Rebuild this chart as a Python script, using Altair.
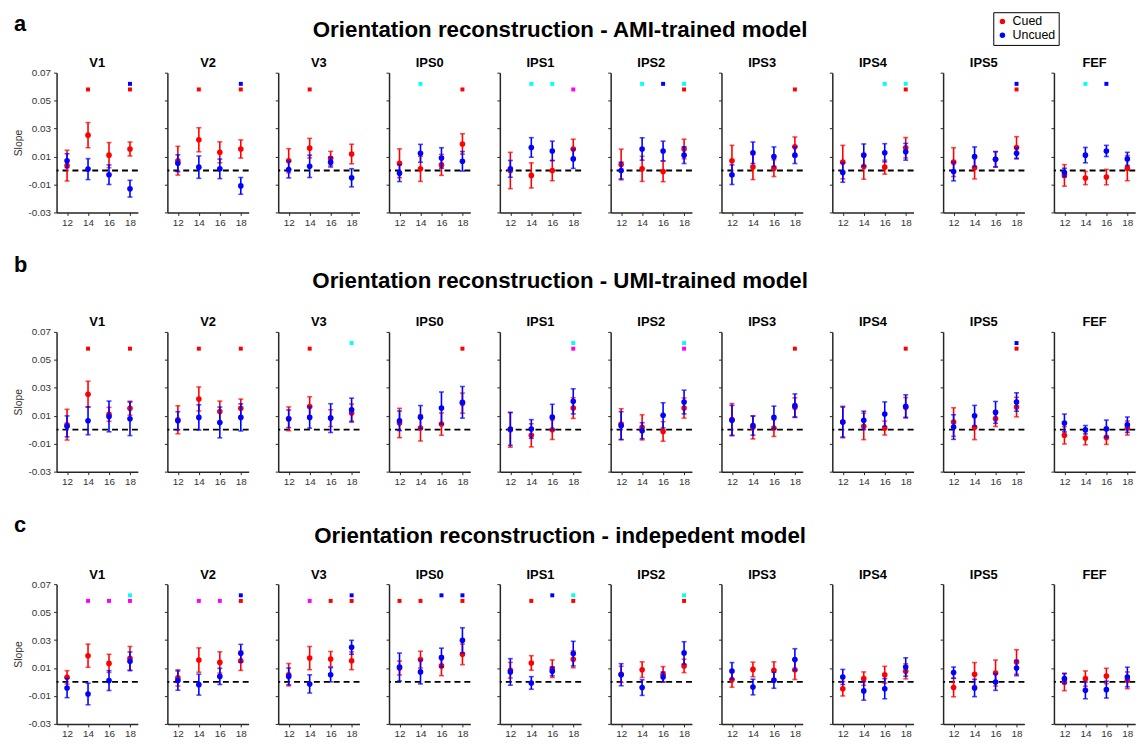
import altair as alt
import pandas as pd

ROIS = ["V1", "V2", "V3", "IPS0", "IPS1", "IPS2", "IPS3", "IPS4", "IPS5", "FEF"]
LOADS = [12, 14, 16, 18]
ROW_KEYS = ["a", "b", "c"]
ROW_TITLES = [
    "Orientation reconstruction - AMI-trained model",
    "Orientation reconstruction - UMI-trained model",
    "Orientation reconstruction - indepedent model",
]
SERIES = ["Cued", "Uncued"]
SERIES_COLORS = ["#ff0000", "#0000ff"]
Y_TICKS = [-0.03, -0.01, 0.01, 0.03, 0.05, 0.07]

# ---- row a : AMI-trained model ----
cued_mean_a = [
    [0.0035, 0.0253, 0.011, 0.0154], [0.007, 0.022, 0.013, 0.0154], [0.007, 0.016, 0.0087, 0.0118],
    [0.0052, 0.0012, 0.004, 0.019], [0.0, -0.0035, 0.0, 0.0154], [0.0043, 0.0012, -0.0007, 0.0154],
    [0.007, 0.0025, 0.0017, 0.017], [0.006, 0.0028, 0.0024, 0.0163], [0.006, 0.002, 0.008, 0.0165],
    [-0.0035, -0.0054, -0.0047, 0.0017],
]
cued_err_a = [
    [0.011, 0.009, 0.009, 0.005], [0.0103, 0.0086, 0.0075, 0.0065], [0.0086, 0.007, 0.005, 0.007],
    [0.0103, 0.009, 0.0075, 0.0073], [0.013, 0.009, 0.0073, 0.007], [0.011, 0.009, 0.0073, 0.007],
    [0.011, 0.009, 0.006, 0.007], [0.012, 0.009, 0.005, 0.0073], [0.0103, 0.008, 0.0055, 0.0077],
    [0.0077, 0.0047, 0.0055, 0.009],
]
uncued_mean_a = [
    [0.007, 0.001, -0.003, -0.013], [0.0052, 0.0024, 0.0012, -0.011], [0.0007, 0.003, 0.006, -0.0052],
    [-0.0019, 0.0123, 0.009, 0.0066], [0.0012, 0.0165, 0.014, 0.0083], [0.0, 0.0154, 0.014, 0.011],
    [-0.003, 0.0127, 0.0099, 0.011], [-0.0014, 0.011, 0.0127, 0.0134], [-0.0007, 0.0099, 0.008, 0.0123],
    [-0.0014, 0.011, 0.014, 0.0083],
]
uncued_err_a = [
    [0.005, 0.0075, 0.007, 0.006], [0.006, 0.008, 0.007, 0.006], [0.006, 0.008, 0.0035, 0.0065],
    [0.006, 0.0064, 0.0073, 0.007], [0.006, 0.007, 0.007, 0.0068], [0.006, 0.008, 0.007, 0.006],
    [0.007, 0.0077, 0.007, 0.006], [0.007, 0.008, 0.0065, 0.006], [0.0067, 0.007, 0.0055, 0.004],
    [0.003, 0.0055, 0.004, 0.0047],
]
markers_a = [
    ("V1", 14, "red"), ("V1", 18, "red"), ("V1", 18, "blue"),
    ("V2", 14, "red"), ("V2", 18, "red"), ("V2", 18, "blue"),
    ("V3", 14, "red"),
    ("IPS0", 14, "cyan"), ("IPS0", 18, "red"),
    ("IPS1", 14, "cyan"), ("IPS1", 16, "cyan"), ("IPS1", 18, "magenta"),
    ("IPS2", 14, "cyan"), ("IPS2", 16, "blue"), ("IPS2", 18, "cyan"), ("IPS2", 18, "red"),
    ("IPS3", 18, "red"),
    ("IPS4", 16, "cyan"), ("IPS4", 18, "cyan"), ("IPS4", 18, "red"),
    ("IPS5", 18, "blue"), ("IPS5", 18, "red"),
    ("FEF", 14, "cyan"), ("FEF", 16, "blue"),
]

# ---- row b : UMI-trained model ----
cued_mean_b = [
    [0.0036, 0.0254, 0.011, 0.0154], [0.0071, 0.022, 0.013, 0.0154], [0.0078, 0.0166, 0.0083, 0.0119],
    [0.0048, 0.0012, 0.004, 0.019], [0.0, -0.004, 0.0, 0.0155], [0.004, 0.0017, -0.0012, 0.0155],
    [0.0072, 0.0017, 0.0012, 0.016], [0.0055, 0.0024, 0.0012, 0.016], [0.0055, 0.0017, 0.0079, 0.0162],
    [-0.004, -0.006, -0.0055, 0.0012],
]
cued_err_b = [
    [0.011, 0.0093, 0.005, 0.005], [0.010, 0.0086, 0.0075, 0.0065], [0.0085, 0.007, 0.006, 0.0065],
    [0.0105, 0.0093, 0.008, 0.0072], [0.0125, 0.0083, 0.007, 0.0074], [0.011, 0.009, 0.007, 0.0072],
    [0.0115, 0.0083, 0.006, 0.0068], [0.0113, 0.0095, 0.005, 0.007], [0.0102, 0.0088, 0.0056, 0.007],
    [0.0062, 0.0048, 0.005, 0.005],
]
uncued_mean_b = [
    [0.0024, 0.0064, 0.0095, 0.0078], [0.0064, 0.0088, 0.0052, 0.0088], [0.0078, 0.0088, 0.0083, 0.0143],
    [0.0064, 0.009, 0.0155, 0.0196], [0.0005, 0.0005, 0.009, 0.0203], [0.0029, -0.0007, 0.0103, 0.0198],
    [0.0067, 0.0029, 0.0088, 0.0172], [0.0055, 0.0067, 0.0112, 0.0167], [0.0019, 0.01, 0.0124, 0.0198],
    [0.0048, 0.0, 0.0007, 0.0036],
]
uncued_err_b = [
    [0.0075, 0.01, 0.011, 0.012], [0.0065, 0.009, 0.011, 0.0097], [0.0063, 0.0077, 0.0103, 0.0083],
    [0.007, 0.0083, 0.0115, 0.0113], [0.0117, 0.0067, 0.0092, 0.009], [0.01, 0.0057, 0.009, 0.0085],
    [0.0107, 0.0068, 0.0081, 0.0084], [0.0107, 0.0066, 0.0087, 0.0083], [0.0088, 0.0074, 0.0078, 0.0066],
    [0.0064, 0.003, 0.0062, 0.0055],
]
markers_b = [
    ("V1", 14, "red"), ("V1", 18, "red"),
    ("V2", 14, "red"), ("V2", 18, "red"),
    ("V3", 14, "red"), ("V3", 18, "cyan"),
    ("IPS0", 18, "red"),
    ("IPS1", 18, "cyan"), ("IPS1", 18, "magenta"),
    ("IPS2", 18, "cyan"), ("IPS2", 18, "magenta"),
    ("IPS3", 18, "red"),
    ("IPS4", 18, "red"),
    ("IPS5", 18, "blue"), ("IPS5", 18, "red"),
]

# ---- row c : independent model ----
cued_mean_c = [
    [0.0033, 0.0188, 0.0133, 0.0169], [0.0029, 0.0157, 0.014, 0.0152], [0.0052, 0.0171, 0.0164, 0.0152],
    [0.01, 0.016, 0.0115, 0.0198], [0.0084, 0.0136, 0.0095, 0.0162], [0.0055, 0.0088, 0.0055, 0.0115],
    [0.0017, 0.009, 0.0084, 0.0088], [-0.0048, 0.0024, 0.0052, 0.0076], [-0.004, 0.0055, 0.0064, 0.0143],
    [0.0, 0.0024, 0.0043, 0.0012],
]
cued_err_c = [
    [0.0048, 0.0083, 0.0065, 0.0085], [0.0058, 0.0087, 0.0076, 0.0069], [0.008, 0.0083, 0.0054, 0.0064],
    [0.005, 0.006, 0.007, 0.0074], [0.0056, 0.0052, 0.0063, 0.006], [0.0058, 0.0056, 0.0055, 0.0048],
    [0.0054, 0.0052, 0.006, 0.007], [0.0052, 0.0048, 0.006, 0.0054], [0.0066, 0.0084, 0.0093, 0.0088],
    [0.0062, 0.0055, 0.0055, 0.006],
]
uncued_mean_c = [
    [-0.0043, -0.0086, 0.001, 0.0148], [0.001, -0.0019, 0.004, 0.0205], [0.004, -0.0014, 0.0052, 0.0248],
    [0.0107, 0.0072, 0.0174, 0.0298], [0.0072, -0.0007, 0.0076, 0.0203], [0.0052, -0.004, 0.0036, 0.0208],
    [0.0079, -0.0036, 0.0012, 0.016], [0.0036, -0.0064, -0.0048, 0.0107], [0.0067, -0.0043, 0.0, 0.01],
    [0.0024, -0.006, -0.0055, 0.0036],
]
uncued_err_c = [
    [0.0069, 0.0077, 0.0071, 0.0067], [0.0069, 0.0075, 0.0058, 0.0064], [0.006, 0.0065, 0.0051, 0.005],
    [0.01, 0.0086, 0.0068, 0.009], [0.0095, 0.0045, 0.0032, 0.0088], [0.0079, 0.0056, 0.0036, 0.008],
    [0.006, 0.0056, 0.0057, 0.0078], [0.0054, 0.0066, 0.0072, 0.0066], [0.004, 0.0062, 0.006, 0.0055],
    [0.0036, 0.006, 0.006, 0.007],
]
markers_c = [
    ("V1", 14, "magenta"), ("V1", 16, "magenta"), ("V1", 18, "cyan"), ("V1", 18, "magenta"),
    ("V2", 14, "magenta"), ("V2", 16, "magenta"), ("V2", 18, "blue"), ("V2", 18, "red"),
    ("V3", 14, "magenta"), ("V3", 16, "red"), ("V3", 18, "blue"), ("V3", 18, "red"),
    ("IPS0", 12, "red"), ("IPS0", 14, "red"), ("IPS0", 16, "blue"), ("IPS0", 18, "blue"), ("IPS0", 18, "red"),
    ("IPS1", 14, "red"), ("IPS1", 16, "blue"), ("IPS1", 18, "cyan"), ("IPS1", 18, "red"),
    ("IPS2", 18, "cyan"), ("IPS2", 18, "red"),
]

MARKER_LEVEL = {"red": 0.058, "magenta": 0.058, "blue": 0.062, "cyan": 0.062}
MARKER_COLOR = {"red": "#ff0000", "magenta": "#ff00ff", "blue": "#0000ff", "cyan": "#00ffff"}

DATA = {
    "a": (cued_mean_a, cued_err_a, uncued_mean_a, uncued_err_a, markers_a),
    "b": (cued_mean_b, cued_err_b, uncued_mean_b, uncued_err_b, markers_b),
    "c": (cued_mean_c, cued_err_c, uncued_mean_c, uncued_err_c, markers_c),
}

# layout of annotation texts (px, relative to the first panel's plot origin)
PW, PH = 82, 141
LETTER_X = -43
LETTER_Y = {"a": -42, "b": -60, "c": -53}
TITLE_X = 508
TITLE_Y = {"a": -36, "b": -44, "c": -42}
PANEL_TITLE_Y = -5.5

recs = []
mrecs = []
for rk in ROW_KEYS:
    cm, ce, um, ue, mks = DATA[rk]
    for i, roi in enumerate(ROIS):
        for j, load in enumerate(LOADS):
            for s, mm, ee in (("Cued", cm, ce), ("Uncued", um, ue)):
                m, e = mm[i][j], ee[i][j]
                recs.append({"row": rk, "roi": roi, "x": load, "series": s,
                             "mean": m, "lo": m - e, "hi": m + e})
    for roi, load, c in mks:
        mrecs.append({"row": rk, "roi": roi, "x": load, "col": c, "y": MARKER_LEVEL[c]})
df = pd.DataFrame(recs)
mdf = pd.DataFrame(mrecs)

AXC = "#262626"
XS = alt.Scale(domain=[11, 18.75], nice=False, zero=False)
YS = alt.Scale(domain=[-0.03, 0.07], nice=False, zero=False)
LABEL_EXPR = "datum.value < 0 ? '-' + format(-datum.value, '.2f') : format(datum.value, '.2f')"

legend = alt.Legend(title=None, orient="none", legendX=945, legendY=-61,
                    strokeColor="black", fillColor="white", padding=3,
                    labelFontSize=12.5, labelColor="black", symbolType="circle",
                    symbolSize=30, rowPadding=1, labelOffset=4)
color_scale = alt.Scale(domain=SERIES, range=SERIES_COLORS)


def x_enc():
    return alt.X("x:Q", scale=XS, axis=alt.Axis(
        values=LOADS, format="d", title=None, grid=False, domainColor=AXC,
        domainWidth=1.5, tickColor=AXC, tickSize=3, labelFontSize=10,
        labelColor="#333333", labelPadding=2))


def y_axis(first):
    common = dict(values=Y_TICKS, grid=False, domainColor=AXC, domainWidth=1.5,
                  tickColor=AXC, tickSize=3)
    if first:
        return alt.Axis(title="Slope", titleFontSize=10.5, titleFontWeight="normal",
                        titleColor="#333333", titlePadding=5, labelExpr=LABEL_EXPR,
                        labelFontSize=10, labelColor="#333333", labelPadding=3, **common)
    return alt.Axis(title=None, labels=False, **common)


def text_layer(txt, size, x, y, align):
    return alt.Chart(pd.DataFrame({"t": [txt]})).mark_text(
        fontSize=size, fontWeight="bold", align=align, baseline="alphabetic",
        color="black").encode(text="t:N", x=alt.value(x), y=alt.value(y))


def panel(k, rk, roi, first):
    d = df[(df["row"] == rk) & (df["roi"] == roi)]
    ya = y_axis(first)
    layers = []
    zero = alt.Chart(pd.DataFrame({"z": [0.0]})).mark_rule(
        color="black", strokeDash=[6, 4], strokeWidth=1.8).encode(
        y=alt.Y("z:Q", scale=YS, axis=ya))
    layers.append(zero)
    for s, col in zip(SERIES, SERIES_COLORS):
        sd = d[d["series"] == s]
        eb = alt.Chart(sd).mark_errorbar(ticks=True, size=5, thickness=1.6).encode(
            x=x_enc(), y=alt.Y("lo:Q", scale=YS, axis=ya), y2="hi:Q",
            color=alt.value(col))
        pt = alt.Chart(sd).mark_circle(size=32, opacity=1).encode(
            x=x_enc(), y=alt.Y("mean:Q", scale=YS, axis=ya),
            color=alt.Color("series:N", scale=color_scale, legend=legend))
        layers += [eb, pt]
    md = mdf[(mdf["row"] == rk) & (mdf["roi"] == roi)]
    for cname, chex in MARKER_COLOR.items():
        cd = md[md["col"] == cname]
        if len(cd):
            layers.append(alt.Chart(cd).mark_square(size=16, opacity=1).encode(
                x=x_enc(), y=alt.Y("y:Q", scale=YS, axis=ya), color=alt.value(chex)))
    layers.append(text_layer(roi, 13, PW / 2, PANEL_TITLE_Y, "center"))
    if first:
        layers.append(text_layer(rk, 22, LETTER_X, LETTER_Y[rk], "left"))
        layers.append(text_layer(ROW_TITLES[k], 22.5, TITLE_X, TITLE_Y[rk], "center"))
    return alt.layer(*layers).properties(width=PW, height=PH)


rows = []
for k, rk in enumerate(ROW_KEYS):
    panels = [panel(k, rk, roi, i == 0) for i, roi in enumerate(ROIS)]
    rows.append(alt.hconcat(*panels, spacing=29.8, bounds="flush"))

chart = alt.vconcat(*rows, spacing=27.5).configure(
    font="Liberation Sans",
    padding={"left": 5, "top": 0, "right": 0, "bottom": 0},
).configure_view(stroke=None)

chart.save("out.html", embed_options={"renderer": "svg", "actions": False})
